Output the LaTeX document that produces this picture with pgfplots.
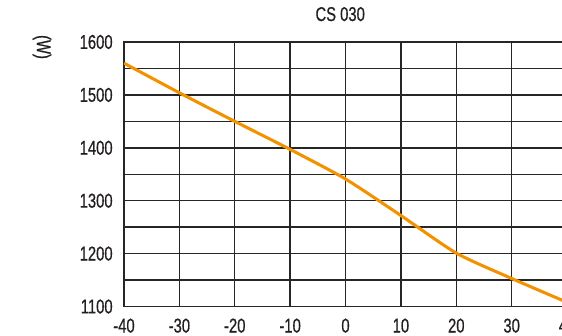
\documentclass[border=0pt]{standalone}
\usepackage{pgfplots}
\pgfplotsset{compat=1.18}
\usepackage{fontspec}
\setmainfont[FakeStretch=0.74, FakeBold=0.6]{Liberation Sans}
\definecolor{gridc}{HTML}{262626}
\definecolor{txt}{HTML}{231F20}
\definecolor{curve}{HTML}{F39200}
\begin{document}
\begin{tikzpicture}
\path[use as bounding box] (0,0) rectangle (421.5pt,252pt);
\begin{axis}[
  at={(93pt,22.1pt)}, anchor=south west,
  scale only axis,
  width=332.3pt, height=198.4pt,
  xmin=-40, xmax=40, ymin=1100, ymax=1600,
  xtick={-40,-30,...,40},
  ytick={1100,1200,...,1600},
  minor ytick={1150,1250,...,1550},
  grid=both,
  major grid style={gridc, line width=1.1pt},
  minor grid style={gridc, line width=1.1pt},
  axis line style={gridc, line width=1.1pt},
  major tick length=0pt, minor tick length=0pt,
  /pgf/number format/assume math mode=true,
  /pgf/number format/1000 sep={},
  ticklabel style={font=\fontsize{15pt}{17pt}\selectfont, text=txt},
  yticklabel style={xshift=-5pt},
  xticklabel style={yshift=-5.5pt},
  title={CS 030},
  title style={font=\fontsize{15pt}{17pt}\selectfont, text=txt, at={(0.5,1)}, anchor=base, xshift=-4pt, yshift=9.75pt},
  ylabel={(W)},
  ylabel style={font=\fontsize{15pt}{17pt}\selectfont, text=txt, rotate=180, at={(axis description cs:-0.185,0.981)}, anchor=center},
]
\addplot[curve, line width=2.3pt, smooth, tension=0.4] coordinates {
  (-40,1560) (-30,1504) (-20,1450) (-10,1397) (0,1341) (10,1272) (20,1201) (30,1153) (40,1108)
};
\end{axis}
\end{tikzpicture}
\end{document}
